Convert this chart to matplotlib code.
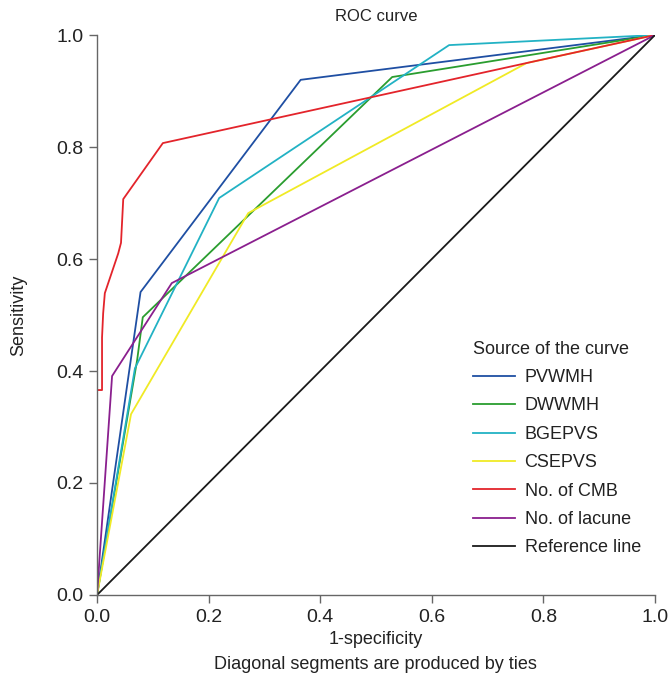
import matplotlib
matplotlib.use("Agg")
import matplotlib.pyplot as plt

plt.rcParams['font.family'] = ['Liberation Sans Narrow', 'Liberation Sans', 'DejaVu Sans']

# ROC points (1-specificity, sensitivity)
pvwmh_x = [0.0, 0.078, 0.365, 1.0]
pvwmh_y = [0.0, 0.541, 0.920, 1.0]

dwwmh_x = [0.0, 0.072, 0.082, 0.529, 1.0]
dwwmh_y = [0.0, 0.420, 0.496, 0.925, 1.0]

bgepvs_x = [0.0, 0.068, 0.219, 0.631, 1.0]
bgepvs_y = [0.0, 0.405, 0.709, 0.982, 1.0]

csepvs_x = [0.0, 0.061, 0.271, 0.770, 1.0]
csepvs_y = [0.0, 0.323, 0.682, 0.950, 1.0]

cmb_x = [0.0, 0.0, 0.009, 0.009, 0.011, 0.014, 0.038, 0.043, 0.047, 0.118, 0.770, 1.0]
cmb_y = [0.0, 0.366, 0.366, 0.460, 0.503, 0.539, 0.610, 0.629, 0.707, 0.807, 0.950, 1.0]

lacune_x = [0.0, 0.027, 0.134, 1.0]
lacune_y = [0.0, 0.391, 0.557, 1.0]

ref_x = [0.0, 1.0]
ref_y = [0.0, 1.0]

fig = plt.figure(figsize=(6.7, 6.95), dpi=100)
ax = fig.add_axes([0.1448, 0.1439, 0.8328, 0.8057])

lw = 1.3
ax.plot(pvwmh_x, pvwmh_y, color='#1f4fa3', lw=lw, label='PVWMH')
ax.plot(dwwmh_x, dwwmh_y, color='#2a9d2f', lw=lw, label='DWWMH')
ax.plot(bgepvs_x, bgepvs_y, color='#22b2c4', lw=lw, label='BGEPVS')
ax.plot(csepvs_x, csepvs_y, color='#f0ea25', lw=lw, label='CSEPVS')
ax.plot(cmb_x, cmb_y, color='#e3242b', lw=lw, label='No. of CMB')
ax.plot(lacune_x, lacune_y, color='#8a1f8e', lw=lw, label='No. of lacune')
ax.plot(ref_x, ref_y, color='#1a1a1a', lw=lw, label='Reference line')

ax.set_xlim(0, 1)
ax.set_ylim(0, 1)
ax.set_xticks([0, 0.2, 0.4, 0.6, 0.8, 1.0])
ax.set_yticks([0, 0.2, 0.4, 0.6, 0.8, 1.0])
ax.set_xticklabels(['0.0', '0.2', '0.4', '0.6', '0.8', '1.0'])
ax.set_yticklabels(['0.0', '0.2', '0.4', '0.6', '0.8', '1.0'])
for s in ['top', 'right']:
    ax.spines[s].set_visible(False)
for s in ['left', 'bottom']:
    ax.spines[s].set_color('#666666')
    ax.spines[s].set_linewidth(1.0)
ax.tick_params(direction='out', length=6, width=1.0, color='#666666',
               labelsize=14, labelcolor='#222222', pad=4)

ax.set_title('ROC curve', fontsize=12, color='#222222', pad=10)
ax.set_ylabel('Sensitivity', fontsize=13, color='#222222', labelpad=21)
ax.set_xlabel('1-specificity', fontsize=13, color='#222222', labelpad=4)
fig.text(0.5607, 0.044, 'Diagonal segments are produced by ties',
         ha='center', va='center', fontsize=13, color='#222222')

leg = ax.legend(loc='lower left', bbox_to_anchor=(0.645, 0.04), frameon=False,
                title='Source of the curve', fontsize=13, title_fontsize=13,
                handlelength=2.3, handletextpad=0.55, labelspacing=0.63,
                alignment='left')
for t in leg.get_texts():
    t.set_color('#222222')
leg.get_title().set_color('#222222')

fig.savefig('out.png', dpi=100)
